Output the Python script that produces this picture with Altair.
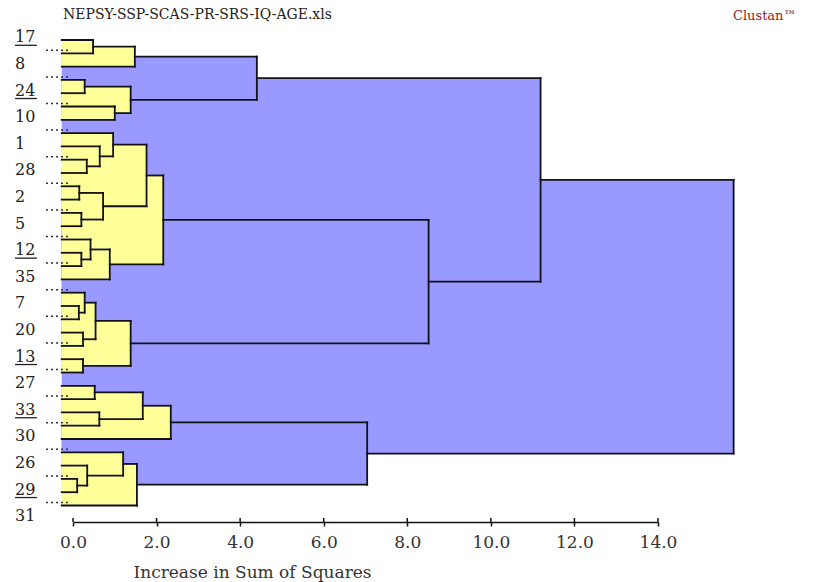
import altair as alt
import pandas as pd

# Case labels printed beside every second leaf, top to bottom
SHOWN_LABELS = ["17", "8", "24", "10", "1", "28", "2", "5", "12", "35",
                "7", "20", "13", "27", "33", "30", "26", "29", "31"]
UNDERLINED = ["17", "24", "12", "13", "33", "29"]

N_LEAVES = 36

# Agglomeration schedule: node N_LEAVES + i joins MERGE_A[i] and MERGE_B[i]
MERGE_A = [33, 20, 11, 13, 16, 22, 24, 3, 19, 9,
           32, 15, 0, 26, 44, 28, 8, 38, 47, 7,
           5, 31, 43, 50, 48, 57, 49, 55, 63, 62,
           60, 65, 64, 66, 69]
MERGE_B = [34, 21, 12, 14, 17, 23, 25, 4, 37, 10,
           36, 40, 1, 27, 41, 29, 45, 39, 18, 52,
           6, 46, 56, 42, 2, 35, 51, 53, 54, 30,
           58, 61, 59, 68, 67]
# Increase in sum of squares at each fusion
MERGE_H = [0.10, 0.14, 0.15, 0.20, 0.20, 0.24, 0.24, 0.28, 0.28, 0.33,
           0.34, 0.42, 0.48, 0.52, 0.54, 0.63, 0.64, 0.72, 0.88, 0.96,
           1.00, 1.20, 1.38, 1.38, 1.48, 1.53, 1.67, 1.76, 2.16, 2.34,
           4.40, 7.04, 8.51, 11.19, 15.81]

X_TICKS = [0, 2, 4, 6, 8, 10, 12, 14]
CUT = 3.0            # fusions below this are shaded as clusters
LEAF_START = -0.27   # leaf stubs begin just left of zero

SERIF = "DejaVu Serif"
YELLOW = "#FFFF99"
BLUE = "#9999FF"
INK = "#111118"
PLOT_W, PLOT_H = 585, 492

# ---- build the tree geometry ----
ypos = {k: float(k) for k in range(N_LEAVES)}
xend = {k: LEAF_START for k in range(N_LEAVES)}
fills, segs = [], []
for i, (a, b, h) in enumerate(zip(MERGE_A, MERGE_B, MERGE_H)):
    node = N_LEAVES + i
    ya, yb = ypos[a], ypos[b]
    fills.append(dict(x=LEAF_START, x2=h, y=ya, y2=yb, h=h,
                      band="upper" if h > CUT else "lower"))
    segs.append(dict(x=xend[a], x2=h, y=ya, y2=ya))
    segs.append(dict(x=xend[b], x2=h, y=yb, y2=yb))
    segs.append(dict(x=h, x2=h, y=ya, y2=yb))
    ypos[node] = (ya + yb) / 2
    xend[node] = h

fill_df = pd.DataFrame(fills)
seg_df = pd.DataFrame(segs)
label_df = pd.DataFrame({
    "label": SHOWN_LABELS,
    "y": [2 * i - 0.2 for i in range(len(SHOWN_LABELS))],
})
label_df["under"] = label_df["label"].isin(UNDERLINED)
leader_df = pd.DataFrame({"y": [float(k) for k in range(1, N_LEAVES, 2)]})
tick_df = pd.DataFrame({"x": X_TICKS})
one_row = pd.DataFrame({"t": [0]})

x_scale = alt.Scale(domain=[0, 14], nice=False, zero=False)
y_scale = alt.Scale(domain=[-0.75, 36.24], nice=False, zero=False, reverse=True)

x_axis = alt.Axis(
    values=X_TICKS, format=".1f", grid=False,
    title="Increase in Sum of Squares",
    domainColor=INK, domainWidth=1.5, tickColor=INK, tickWidth=1.5, tickSize=4,
    labelFont=SERIF, labelFontSize=17, labelColor="#333333", labelPadding=8,
    labelFlush=False,
    titleFont=SERIF, titleFontSize=17, titleFontWeight="normal", titleColor="#333333",
    titleX=60, titleY=50, titleAlign="left", titleBaseline="middle",
)

fills_layer = alt.Chart(fill_df).mark_rect(strokeWidth=0).encode(
    x=alt.X("x:Q", scale=x_scale, axis=x_axis),
    x2="x2:Q",
    y=alt.Y("y:Q", scale=y_scale, axis=None),
    y2="y2:Q",
    color=alt.Color("band:N", scale=alt.Scale(domain=["lower", "upper"],
                                              range=[YELLOW, BLUE]), legend=None),
    order=alt.Order("h:Q", sort="descending"),
)

lines_layer = alt.Chart(seg_df).mark_rule(color=INK, strokeWidth=1.8,
                                          strokeCap="square").encode(
    x=alt.X("x:Q", scale=x_scale, axis=x_axis),
    x2="x2:Q",
    y=alt.Y("y:Q", scale=y_scale, axis=None),
    y2="y2:Q",
)

# upper half of each axis tick, so ticks cross the axis line
tick_tops = alt.Chart(tick_df).mark_rule(color=INK, strokeWidth=1.5).encode(
    x=alt.X("x:Q", scale=x_scale, axis=x_axis),
    y=alt.value(PLOT_H - 4), y2=alt.value(PLOT_H),
)

leaders = alt.Chart(leader_df).mark_rule(color="#333333", strokeWidth=1.5,
                                         strokeDash=[2, 3], yOffset=-3).encode(
    x=alt.value(-27), x2=alt.value(-5),
    y=alt.Y("y:Q", scale=y_scale, axis=None),
)

labels = alt.Chart(label_df).mark_text(
    align="left", baseline="middle", font=SERIF, fontSize=16, color="#222222"
).encode(
    x=alt.value(-58),
    y=alt.Y("y:Q", scale=y_scale, axis=None),
    text="label:N",
)

underlines = alt.Chart(label_df).transform_filter("datum.under").mark_rule(
    color="#222222", strokeWidth=1.3, yOffset=8
).encode(
    x=alt.value(-58), x2=alt.value(-36),
    y=alt.Y("y:Q", scale=y_scale, axis=None),
)

file_title = alt.Chart(one_row).mark_text(
    align="left", baseline="middle", font=SERIF, fontSize=14, color="#222222"
).encode(x=alt.value(-10), y=alt.value(-15),
         text=alt.value("NEPSY-SSP-SCAS-PR-SRS-IQ-AGE.xls"))

brand = alt.Chart(one_row).mark_text(
    align="left", baseline="middle", font=SERIF, fontSize=13, color="#8b2323"
).encode(x=alt.value(660), y=alt.value(-14), text=alt.value("Clustan™"))

chart = alt.layer(
    fills_layer, lines_layer, tick_tops, leaders, labels, underlines,
    file_title, brand
).properties(
    width=PLOT_W, height=PLOT_H,
    padding={"left": 73, "top": 30, "right": 825 - 73 - PLOT_W, "bottom": 60},
    autosize=alt.AutoSizeParams(type="none"),
    background="white",
).configure_view(stroke=None)

chart.save("out.html", embed_options={"renderer": "svg", "actions": False})
